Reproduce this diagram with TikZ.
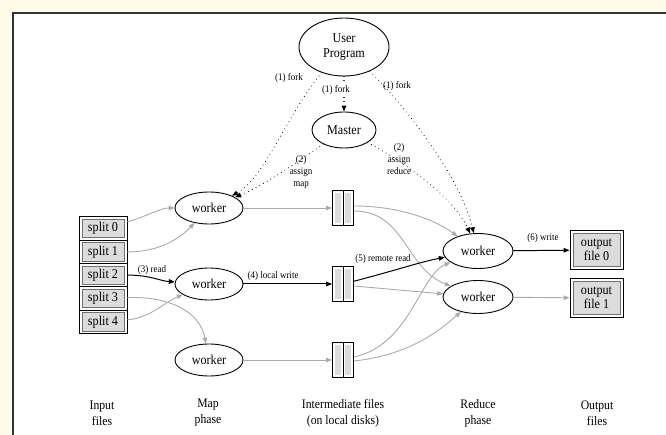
\documentclass[tikz,border=0pt]{standalone}
\usepackage{fontspec}
\setmainfont{Liberation Serif}[FakeStretch=0.9]
\usetikzlibrary{arrows.meta,shapes.geometric}

\definecolor{paper}{HTML}{FFFBE9}
\definecolor{framecol}{HTML}{333333}
\definecolor{flow}{HTML}{ABABAB}
\definecolor{cellfill}{HTML}{DCDCDC}
\definecolor{cellline}{HTML}{707070}

\tikzset{
  >={Triangle[length=6pt,width=4.6pt]},
  nodefont/.style={font=\fontsize{13.5}{15}\selectfont},
  proc/.style={ellipse, draw, line width=0.9pt, inner sep=0pt, align=center, nodefont},
  worker/.style={proc, minimum width=68pt, minimum height=32pt},
  rworker/.style={proc, minimum width=70pt, minimum height=35pt},
  cell/.style={rectangle, draw, line width=0.9pt, minimum width=48pt, minimum height=23.3pt,
    inner sep=0pt, nodefont,
    path picture={\draw[cellline, fill=cellfill, line width=0.6pt]
      ([shift={(3pt,-2.5pt)}]path picture bounding box.north west) rectangle
      ([shift={(-3pt,2.5pt)}]path picture bounding box.south east);}},
  ifile/.style={rectangle, draw, line width=0.9pt, fill=white, minimum width=21pt,
    minimum height=35pt, inner sep=0pt,
    path picture={
      \fill[cellfill] ([shift={(2.5pt,-2.5pt)}]path picture bounding box.north west) rectangle
        ([shift={(-2pt,2.5pt)}]path picture bounding box.south);
      \fill[cellfill] ([shift={(2pt,-2.5pt)}]path picture bounding box.north) rectangle
        ([shift={(-2.5pt,2.5pt)}]path picture bounding box.south east);
      \draw[line width=0.9pt] (path picture bounding box.north) -- (path picture bounding box.south);}},
  ofile/.style={rectangle, draw, line width=0.9pt, minimum width=53pt, minimum height=39pt,
    inner sep=0pt, align=center, font=\fontsize{13.5}{14.5}\selectfont,
    path picture={\draw[cellline, fill=cellfill, line width=0.6pt]
      ([shift={(3pt,-3pt)}]path picture bounding box.north west) rectangle
      ([shift={(-3pt,3pt)}]path picture bounding box.south east);}},
  dotline/.style={->, line width=1.1pt, dash pattern=on 0.01pt off 4.2pt, line cap=round},
  bflow/.style={->, line width=1pt},
  gflow/.style={->, draw=flow, line width=0.9pt},
  lab/.style={font=\fontsize{10}{12.3}\selectfont, align=center, inner sep=1pt},
  phase/.style={font=\fontsize{13}{16}\selectfont, align=center, inner sep=0pt}
}

\begin{document}
\begin{tikzpicture}[x=1pt,y=-1pt]
\useasboundingbox (0,0) rectangle (666,435);
% page and panel
\fill[paper] (0,0) rectangle (666,435);
\fill[white] (12,12) rectangle (666,435);
\draw[framecol, line width=1.6pt] (12.8,435) -- (12.8,12.8) -- (666,12.8);

% control nodes
\node[proc, minimum width=90pt, minimum height=58pt] (user) at (344,47) {User\\Program};
\node[proc, minimum width=64pt, minimum height=36pt] (master) at (344,130) {Master};

% input splits
\foreach \i/\y in {0/228.6,1/251.9,2/275.2,3/298.5,4/321.8}
  \node[cell] (s\i) at (103,\y) {split \i};

% map workers
\node[worker] (m0) at (209,208) {worker};
\node[worker] (m1) at (209,284) {worker};
\node[worker] (m2) at (209,360) {worker};

% intermediate files
\node[ifile] (i0) at (343,208) {};
\node[ifile] (i1) at (343,284) {};
\node[ifile] (i2) at (343,360) {};

% reduce workers
\node[rworker] (r0) at (478,251) {worker};
\node[rworker, minimum height=33pt] (r1) at (478,297) {worker};

% output files
\node[ofile] (o0) at (596.5,250) {output\\file 0};
\node[ofile] (o1) at (596.5,298) {output\\file 1};

% edge labels
\node[lab] (fk1) at (289,78) {(1) fork};
\node[lab] (fk3) at (397,86) {(1) fork};
\node[lab] (as1) at (301,172) {(2)\\assign\\map};
\node[lab] (as2) at (399,159) {(2)\\assign\\reduce};
\node[lab] (rd) at (152,270) {(3) read};
\node[lab] (lw) at (273,276) {(4) local write};
\node[lab] (rr) at (383,259) {(5) remote read};
\node[lab] (wr) at (543,238) {(6) write};

% fork and assignment
\draw[dotline] (user) .. controls (288,112) and (265,178) .. (m0);
\draw[dotline] (user) -- (master);
\node[lab, fill=white] (fk2) at (336,90) {(1) fork};
\draw[dotline] (user) .. controls (400,100) and (460,175) .. (r0);
\draw[dotline] (master) .. controls (300,160) and (265,185) .. (m0);
\draw[dotline] (master) .. controls (410,165) and (455,200) .. (r0);

% input reads
\draw[gflow] (s0) .. controls (148,216) and (160,208) .. (m0);
\draw[gflow] (s1) .. controls (160,252) and (180,238) .. (m0);
\draw[bflow] (s2) .. controls (150,275) and (160,281) .. (m1);
\draw[gflow] (s3) .. controls (170,296) and (200,312) .. (m2);
\draw[gflow] (s4) .. controls (150,318) and (165,302) .. (m1);

% local writes
\draw[gflow] (m0) -- (i0);
\draw[bflow] (m1) -- (i1);
\draw[gflow] (m2) -- (i2);

% remote reads
\draw[gflow] ([yshift=2pt]i0.east) .. controls (400,206) and (435,220) .. (r0);
\draw[gflow] ([yshift=-3pt]i0.east) .. controls (405,211) and (405,268) .. (r1);
\draw[bflow] (i1) .. controls (390,272) and (420,262) .. (r0);
\draw[gflow] ([yshift=-2pt]i1.east) -- (r1);
\draw[gflow] ([yshift=3pt]i2.east) .. controls (410,345) and (420,275) .. (r0);
\draw[gflow] ([yshift=-1pt]i2.east) .. controls (410,355) and (440,330) .. (r1);

% writes
\draw[bflow] (r0) -- (o0);
\draw[gflow] (r1) -- (o1);

% phase captions
\node[phase] (p0) at (102,413) {Input\\files};
\node[phase] (p1) at (208,413) {Map\\phase};
\node[phase] (p2) at (343,413) {Intermediate files\\(on local disks)};
\node[phase] (p3) at (478,413) {Reduce\\phase};
\node[phase] (p4) at (597,413) {Output\\files};
\end{tikzpicture}
\end{document}
